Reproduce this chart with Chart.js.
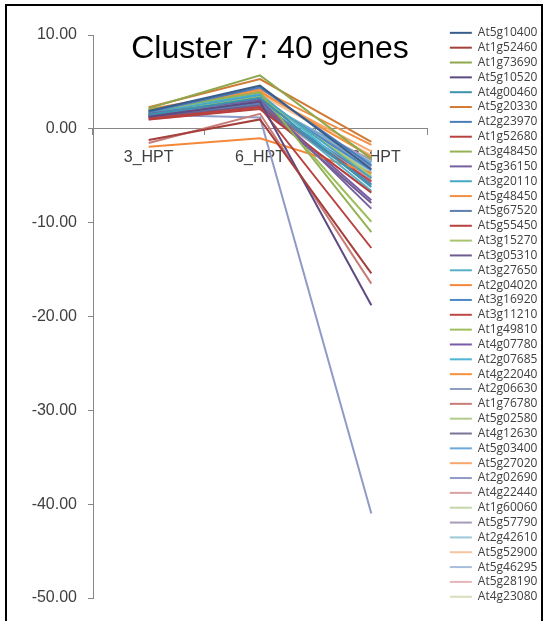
<!DOCTYPE html>
<html>
<head>
<meta charset="utf-8">
<script src="https://cdn.jsdelivr.net/npm/chart.js@4/dist/chart.umd.min.js"></script>
<style>
  html, body { margin: 0; padding: 0; background: #fff; }
  #wrap { position: relative; width: 544px; height: 621px; overflow: hidden; }
  #frame { position: absolute; left: 5px; top: 4px; width: 534px; height: 700px; border: 2px solid #000; pointer-events: none; }
  canvas { position: absolute; left: 0; top: 0; }
</style>
</head>
<body>
<div id="wrap">
  <canvas id="c" width="544" height="621"></canvas>
  <div id="frame"></div>
</div>
<script>
const categories = ["3_HPT", "6_HPT", "12_HPT"];
const genes = ["At5g10400","At1g52460","At1g73690","At5g10520","At4g00460","At5g20330","At2g23970","At1g52680","At3g48450","At5g36150","At3g20110","At5g48450","At5g67520","At5g55450","At3g15270","At3g05310","At3g27650","At2g04020","At3g16920","At3g11210","At1g49810","At4g07780","At2g07685","At4g22040","At2g06630","At1g76780","At5g02580","At4g12630","At5g03400","At5g27020","At2g02690","At4g22440","At1g60060","At5g57790","At2g42610","At5g52900","At5g46295","At5g28190","At4g23080"];
const colors = ["#3A5E8C","#A5403C","#8FA84F","#5E4A82","#3C93AB","#D07A35","#4A7DBA","#B8423F","#94B254","#7560A0","#48A7C2","#F28E42","#5C7FAF","#B8403C","#A9C46F","#6E5C8E","#56B1C9","#F4883A","#4C87C6","#BD4845","#9EBF5E","#7B5AA8","#4DB6D6","#F7923A","#8CA0BD","#C87C79","#B2CB89","#7C7497","#6DA9DA","#F8A66B","#8F9BC6","#D9A3A3","#C5D6A6","#A89BBA","#9CC9D8","#F6C39D","#A7BDDC","#E7B4B9","#D6DFBA"];
const hpt3  = [1.9,-1.2,2.2,1.3,1.5,2.3,1.8,1.1,2.0,1.6,1.7,2.1,1.4,1.0,1.9,1.2,1.6,-1.9,1.5,1.3,1.8,1.4,1.9,2.0,1.7,-1.5,1.8,1.2,1.6,2.1,1.5,1.0,1.9,1.4,1.7,2.0,1.6,1.5,1.8];
const hpt6  = [4.6,1.0,5.7,2.9,3.3,5.3,4.4,2.3,3.9,3.1,3.6,4.2,2.7,2.1,3.4,2.5,3.0,-1.0,3.2,2.4,3.5,2.8,3.7,4.0,2.9,1.6,3.3,2.6,3.0,3.8,1.2,2.2,3.1,2.7,3.2,3.6,2.9,2.6,3.0];
const hpt12 = [-4.3,-15.4,-3.2,-18.8,-6.2,-1.4,-3.9,-12.7,-11.0,-8.5,-5.3,-1.7,-5.9,-6.8,-5.0,-7.9,-6.6,-4.7,-4.4,-5.6,-9.9,-7.6,-6.0,-3.0,-4.0,-16.5,-4.8,-5.2,-3.6,-2.4,-41.0,-5.7,-4.1,-3.3,-4.6,-2.8,-3.8,-5.4,-3.5];
const yTicks = [10, 0, -10, -20, -30, -40, -50];

const datasets = genes.map((g, i) => ({
  label: g,
  data: [hpt3[i], hpt6[i], hpt12[i]],
  borderColor: colors[i],
  backgroundColor: colors[i],
  borderWidth: 2,
  pointRadius: 0,
  tension: 0,
  yAxisID: 'y'
}));

const axisGrey = '#868686';
const txt = '#404040';

new Chart(document.getElementById('c'), {
  type: 'line',
  data: { labels: categories, datasets },
  options: {
    responsive: false,
    animation: false,
    layout: { padding: { left: 0, right: 4, top: 24, bottom: 0 } },
    plugins: {
      tooltip: { enabled: false },
      title: {
        display: true,
        text: 'Cluster 7: 40 genes',
        color: '#000',
        font: { family: 'Liberation Sans', size: 32, weight: 'normal', lineHeight: 1.2 },
        padding: { top: 5.8, bottom: -33.2 }
      },
      legend: {
        position: 'right',
        align: 'start',
        maxWidth: 93,
        labels: {
          boxWidth: 22,
          boxHeight: 2,
          padding: 2.84,
          color: txt,
          font: { family: 'Open Sans', size: 12 },
          generateLabels: (chart) => Chart.defaults.plugins.legend.labels.generateLabels(chart).map(it => Object.assign(it, { fillStyle: it.strokeStyle, lineWidth: 0 }))
        }
      }
    },
    scales: {
      x: {
        type: 'category',
        position: { y: 0 },
        offset: true,
        grid: { display: true, drawOnChartArea: false, offset: true, tickLength: 6, color: axisGrey },
        border: { display: true, color: axisGrey, width: 1 },
        ticks: { color: txt, padding: 13, font: { family: 'Liberation Sans', size: 16 }, maxRotation: 0 }
      },
      x2: {
        type: 'category',
        position: 'bottom',
        labels: categories,
        grid: { display: false },
        border: { display: false },
        ticks: { display: false },
        afterFit: s => { s.height = 23; }
      },
      y: {
        type: 'linear',
        position: 'left',
        min: -50,
        max: 10,
        afterBuildTicks: s => { s.ticks = yTicks.map(v => ({ value: v })); },
        grid: { display: true, drawOnChartArea: false, tickLength: 5, color: axisGrey },
        border: { display: true, color: axisGrey, width: 1 },
        ticks: { color: txt, padding: 11, font: { family: 'Liberation Sans', size: 16 }, callback: v => Number(v).toFixed(2) },
        afterFit: s => { s.width = 93; }
      },
      y2: {
        type: 'linear',
        position: 'right',
        grid: { display: false },
        border: { display: false },
        ticks: { display: false },
        afterFit: s => { s.width = 20; }
      }
    }
  }
});
</script>
</body>
</html>
